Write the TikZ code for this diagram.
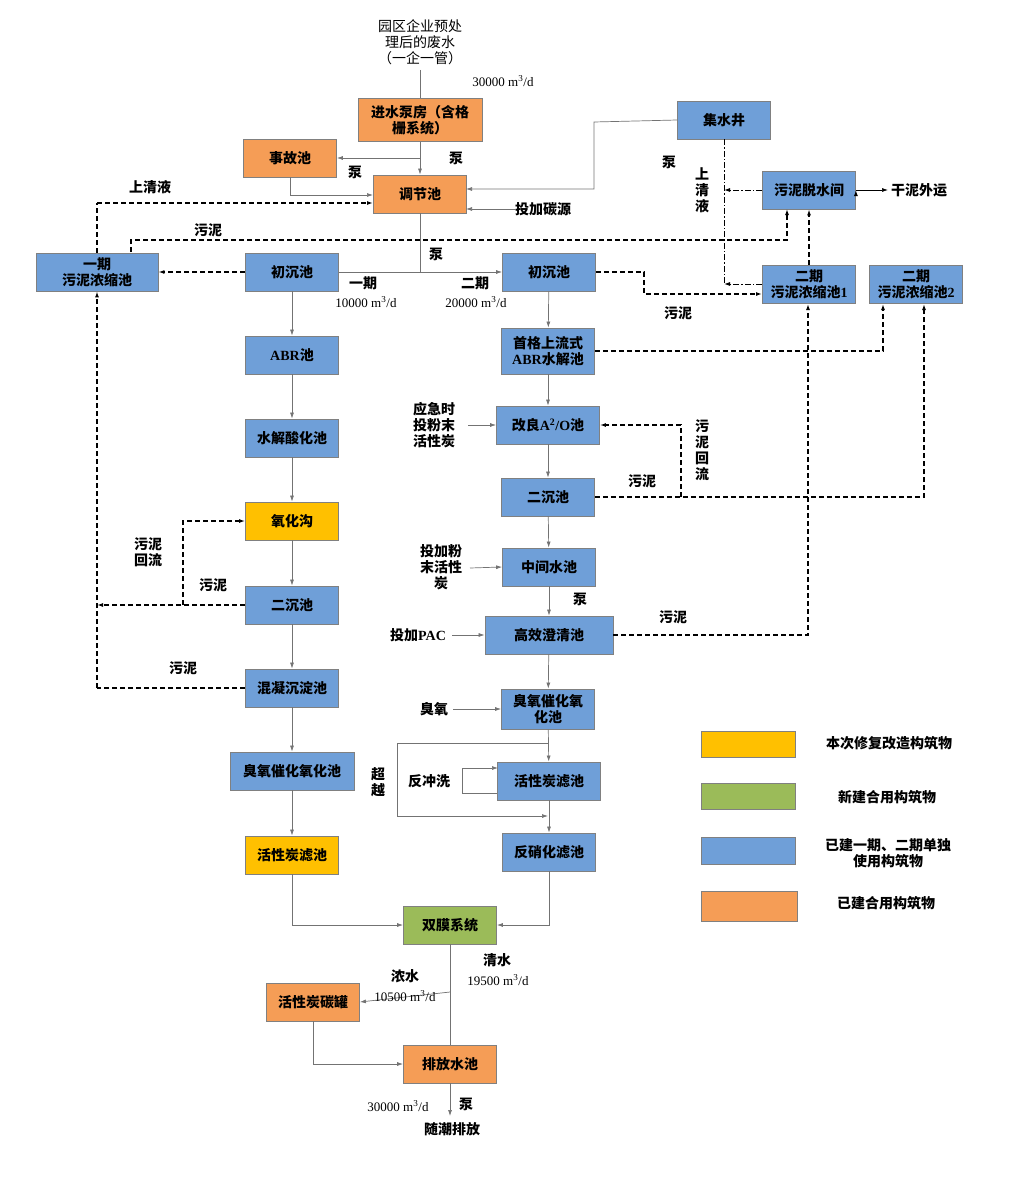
\documentclass[tikz,border=0pt]{standalone}
\usepackage{fontspec}
\setmainfont{Noto Sans CJK SC}
\newfontfamily\lat{Liberation Serif}
\usetikzlibrary{arrows.meta}
\definecolor{cor}{HTML}{F59D56}
\definecolor{cbl}{HTML}{6F9FD8}
\definecolor{cye}{HTML}{FFC000}
\definecolor{cgr}{HTML}{9BBB59}
\definecolor{bd}{HTML}{808080}
\newcommand{\flow}[1]{{\lat #1 m\textsuperscript{3}/d}}
\begin{document}
\begin{tikzpicture}[x=1pt,y=-1pt,
 font=\fontsize{14}{16}\selectfont,
 box/.style={draw=bd,line width=0.8pt,minimum width=93pt,minimum height=38pt,inner sep=1pt,align=center,font=\fontsize{14}{16}\selectfont\bfseries},
 ob/.style={box,fill=cor}, bb/.style={box,fill=cbl}, yb/.style={box,fill=cye}, gb/.style={box,fill=cgr},
 fl/.style={draw=black!55,line width=0.7pt,-{Latex[length=6pt,width=4pt]}},
 ln/.style={draw=black!55,line width=0.7pt},
 sl/.style={draw=black,line width=1.2pt,dash pattern=on 5pt off 3pt,-{Latex[length=6pt,width=4pt]}},
 slp/.style={draw=black,line width=1.2pt,dash pattern=on 5pt off 3pt},
 dd/.style={draw=black,line width=0.9pt,dash pattern=on 6pt off 2pt on 1.5pt off 2pt},
 lb/.style={align=center,inner sep=0pt,font=\fontsize{14}{16}\selectfont\bfseries}]
\useasboundingbox (0,0) rectangle (1024,1204);
% boxes
\node[ob,minimum width=124pt,minimum height=43pt] (jsb) at (420,120) {进水泵房（含格\\栅系统）};
\node[ob] (sgc) at (290,158) {事故池};
\node[ob] (tjc) at (420,194) {调节池};
\node[bb] (jsj) at (724,120) {集水井};
\node[bb] (tsj) at (809,190) {污泥脱水间};
\node[bb,minimum width=122pt] (ynz) at (97,272) {一期\\污泥浓缩池};
\node[bb] (cL) at (292,272) {初沉池};
\node[bb] (cR) at (549,272) {初沉池};
\node[bb] (nz1) at (809,284) {二期\\污泥浓缩池{\lat 1}};
\node[bb] (nz2) at (916,284) {二期\\污泥浓缩池{\lat 2}};
\node[bb] (abrL) at (292,355) {{\lat ABR}池};
\node[bb,minimum height=46pt] (abrR) at (548,351) {首格上流式\\{\lat\bfseries ABR}水解池};
\node[bb] (sjL) at (292,438) {水解酸化池};
\node[bb,minimum width=103pt] (a2o) at (548,425) {改良{\lat\bfseries A\textsuperscript{2}/O}池};
\node[yb] (yhg) at (292,521) {氧化沟};
\node[bb] (ecR) at (548,497) {二沉池};
\node[bb] (ecL) at (292,605) {二沉池};
\node[bb] (zjc) at (549,567) {中间水池};
\node[bb,minimum width=128pt] (gxc) at (549,635) {高效澄清池};
\node[bb] (hnc) at (292,688) {混凝沉淀池};
\node[bb,minimum height=40pt] (cyR) at (548,709) {臭氧催化氧\\化池};
\node[bb,minimum width=124pt] (cyL) at (292,771) {臭氧催化氧化池};
\node[bb,minimum width=103pt] (htR) at (549,781) {活性炭滤池};
\node[yb] (htL) at (292,855) {活性炭滤池};
\node[bb] (fxh) at (549,852) {反硝化滤池};
\node[gb] (sm) at (450,925) {双膜系统};
\node[ob] (tg) at (313,1002) {活性炭碳罐};
\node[ob] (pf) at (450,1064) {排放水池};
% legend
\node[yb,minimum width=94pt,minimum height=26pt] (lg1) at (748,744) {};
\node[gb,minimum width=94pt,minimum height=26pt] (lg2) at (748,796) {};
\node[bb,minimum width=94pt,minimum height=27pt] (lg3) at (748,851) {};
\node[ob,minimum width=96pt,minimum height=30pt] (lg4) at (749,906) {};
\node[lb] (lt1) at (889,743) {本次修复改造构筑物};
\node[lb] (lt2) at (887,797) {新建合用构筑物};
\node[lb] (lt3) at (888,853) {已建一期、二期单独\\使用构筑物};
\node[lb] (lt4) at (886,903) {已建合用构筑物};
% top input
\node[lb,font=\fontsize{14}{16}\selectfont] (src) at (420,42) {园区企业预处\\理后的废水\\（一企一管）};
\node[lb,font=\fontsize{13}{15}\selectfont] (q0) at (503,81) {\flow{30000}};
\draw[ln] (420,70) -- (jsb.north);
% main flows
\draw[fl] (jsb.south) -- (tjc.north);
\coordinate (p1) at (420,158);
\draw[fl] (p1) -- (sgc.east);
\node[lb] at (456,158) {泵};
\node[lb] at (355,172) {泵};
\draw[fl] (sgc.south) |- (373,195);
\draw[fl] (jsj.west) -- (594,122) |- (466,189);
\node[lb] at (669,162) {泵};
\node[lb,anchor=west] (tjty) at (515,209) {投加碳源};
\draw[fl] (tjty.west) -- (466,209);
\coordinate (sp) at (420,272);
\draw[ln] (tjc.south) -- (sp);
\draw[fl] (cL.east) -- (cR.west);
\node[lb] at (436,254) {泵};
\node[lb] at (363,283) {一期};
\node[lb,font=\fontsize{13}{15}\selectfont] at (366,302) {\flow{10000}};
\node[lb] at (475,283) {二期};
\node[lb,font=\fontsize{13}{15}\selectfont] at (476,302) {\flow{20000}};
% left chain
\draw[fl] (cL) -- (abrL);
\draw[fl] (abrL) -- (sjL);
\draw[fl] (sjL) -- (yhg);
\draw[fl] (yhg) -- (ecL);
\draw[fl] (ecL) -- (hnc);
\draw[fl] (hnc) -- (cyL);
\draw[fl] (cyL) -- (htL);
\draw[fl] (htL.south) |- (sm.west);
% right chain
\draw[fl] (cR) -- (abrR);
\draw[fl] (abrR) -- (a2o);
\draw[fl] (a2o) -- (ecR);
\draw[fl] (ecR) -- (zjc);
\draw[fl] (zjc) -- (gxc);
\node[lb] at (580,599) {泵};
\draw[fl] (gxc) -- (cyR);
\draw[fl] (cyR) -- (htR);
\draw[fl] (htR) -- (fxh);
\draw[fl] (fxh.south) |- (sm.east);
\node[lb] (yj) at (434,425) {应急时\\投粉末\\活性炭};
\draw[fl] (468,425) -- (a2o.west);
\node[lb] (fm) at (441,567) {投加粉\\末活性\\炭};
\draw[fl] (470,568) -- (zjc.west);
\node[lb] (pac) at (418,635) {投加{\lat\bfseries PAC}};
\draw[fl] (452,635) -- (gxc.west);
\node[lb] (cy) at (434,709) {臭氧};
\draw[fl] (453,709) -- (cyR.west);
% bypass and backwash
\draw[fl] (548,743) -- (397,743) -- (397,816) -- (548,816);
\node[lb] at (378,782) {超\\越};
\draw[fl] ([yshift=-12pt]htR.west) -- (462,793) -- (462,768) -- (498,768);
\node[lb] at (429,781) {反冲洗};
% outlet
\coordinate (br) at (450,992);
\draw[ln] (sm.south) -- (pf.north);
\draw[fl] (br) -- (tg.east);
\draw[fl] (tg.south) |- (pf.west);
\node[lb] at (497,960) {清水};
\node[lb,font=\fontsize{13}{15}\selectfont] at (498,980) {\flow{19500}};
\node[lb] at (405,976) {浓水};
\node[lb,font=\fontsize{13}{15}\selectfont] at (405,996) {\flow{10500}};
\coordinate (out) at (450,1116);
\draw[fl] (pf.south) -- (out);
\node[lb,font=\fontsize{13}{15}\selectfont] at (398,1106) {\flow{30000}};
\node[lb] at (466,1104) {泵};
\node[lb] at (452,1129) {随潮排放};
% sludge left
\draw[slp] (ynz.north) -- (97,203);
\draw[sl] (97,203) -- (373,203);
\node[lb] at (150,187) {上清液};
\draw[sl] (131,252) -- (131,240) -- (787,240) -- (787,209);
\node[lb] at (208,230) {污泥};
\draw[sl] (cL.west) -- (ynz.east);
\draw[sl] (97,688) -- (ynz.south);
\draw[sl] (ecL.west) -- (97,605);
\draw[slp] (hnc.west) -- (97,688);
\draw[sl] (183,605) -- (183,521) -- (yhg.west);
\node[lb] at (148,552) {污泥\\回流};
\node[lb] at (213,585) {污泥};
\node[lb] at (183,668) {污泥};
% sludge right
\draw[dd] (jsj.south) -- (724,284);
\draw[dd,-{Latex[length=6pt,width=4pt]}] (tsj.west) -- (724,190);
\draw[dd,-{Latex[length=6pt,width=4pt]}] (762,284) -- (724,284);
\node[lb] at (702,190) {上\\清\\液};
\draw[sl] (cR.east) -- (644,272) -- (644,294) -- (762,294);
\node[lb] at (678,313) {污泥};
\draw[sl] (nz1.north) -- (tsj.south);
\draw[sl] (tsj.east) ++(0,0);
\draw[fl,draw=black] (tsj.east) -- (888,190);
\node[lb,anchor=west] at (891,190) {干泥外运};
\draw[sl] (abrR.east) -- (883,351) -- (883,304);
\draw[sl] (ecR.east) -- (924,497) -- (924,304);
\draw[sl] (681,497) -- (681,425) -- (a2o.east);
\node[lb] at (642,481) {污泥};
\node[lb] at (702,450) {污\\泥\\回\\流};
\draw[sl] (gxc.east) -- (808,635) -- (808,304);
\node[lb] at (673,617) {污泥};
\end{tikzpicture}
\end{document}
